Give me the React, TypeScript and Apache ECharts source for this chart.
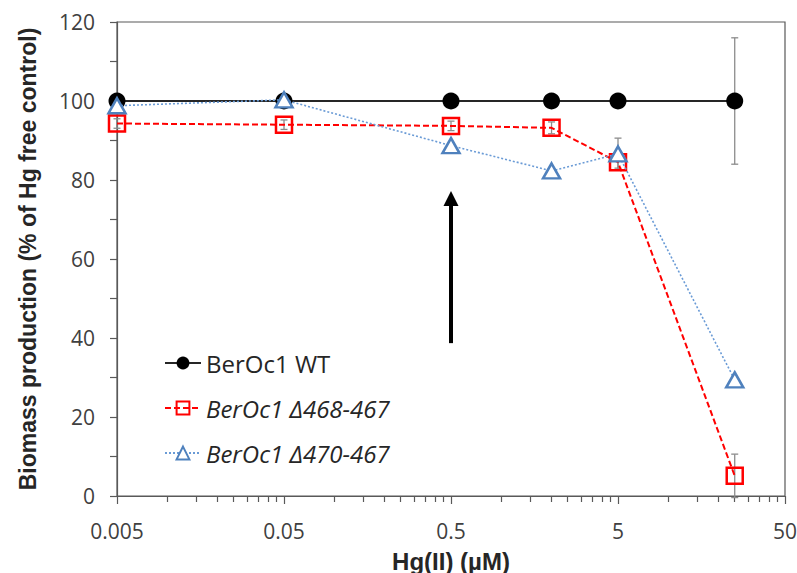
import React, { useEffect, useRef } from 'react';
import * as echarts from 'echarts';

// Hg(II) concentrations (µM)
const concentrations = [0.005, 0.05, 0.5, 2, 5, 25];
// Biomass production (% of Hg free control)
const wtValues = [100, 100, 100, 100, 100, 100];
const wtErrors = [0, 0, 0, 0, 0, 16];
const d468Values = [94.3, 94.0, 93.7, 93.2, 84.5, 5.1];
const d468Errors = [1.2, 1.2, 1.2, 1.5, 1.5, 5.5];
const d470Values = [98.8, 100.3, 88.7, 82.3, 86.6, 29.4];
const d470Errors = [0.5, 0.8, 0.5, 0, 4, 0];
const xTickLabels = ['0.005', '0.05', '0.5', '5', '50'];
const seriesNames = ['BerOc1 WT', 'BerOc1 \u0394468-467', 'BerOc1 \u0394470-467'];
const arrowX = 0.5;
const arrowFrom = 38.7;
const arrowTo = 75.3;

const X_BASE = 0.005;
const tx = (x: number) => Math.log10(x / X_BASE);

const minorTicks: number[] = [];
for (let n = 0; n < 4; n++) {
  for (let k = 2; k <= 9; k++) minorTicks.push(n + Math.log10(k));
}

const FONT = '"Open Sans", "Noto Sans", sans-serif';
const NAME_FONT = '"Liberation Sans", Arial, sans-serif';

export default function App() {
  const ref = useRef<HTMLDivElement>(null);
  useEffect(() => {
    if (!ref.current) return;
    const chart = echarts.init(ref.current, undefined, { renderer: 'svg' });

    const toPts = (vals: number[]) => concentrations.map((c, i) => [tx(c), vals[i]]);
    const errData = (vals: number[], errs: number[]) =>
      concentrations.map((c, i) => [tx(c), vals[i], errs[i]]);

    const errorSeries = (vals: number[], errs: number[]) => ({
      type: 'custom',
      xAxisIndex: 0,
      yAxisIndex: 0,
      silent: true,
      z: 1,
      data: errData(vals, errs),
      renderItem: (params: any, api: any) => {
        const x = api.value(0);
        const y = api.value(1);
        const e = api.value(2);
        if (!e) return { type: 'group', children: [] };
        const top = api.coord([x, y + e]);
        const bot = api.coord([x, y - e]);
        const cap = 3.5;
        const style = { stroke: '#8c8c8c', lineWidth: 1.3 };
        return {
          type: 'group',
          children: [
            { type: 'line', shape: { x1: top[0], y1: top[1], x2: bot[0], y2: bot[1] }, style },
            { type: 'line', shape: { x1: top[0] - cap, y1: top[1], x2: top[0] + cap, y2: top[1] }, style },
            { type: 'line', shape: { x1: bot[0] - cap, y1: bot[1], x2: bot[0] + cap, y2: bot[1] }, style },
          ],
        };
      },
    });

    chart.setOption({
      animation: false,
      grid: {
        left: 117,
        right: 12,
        top: 22,
        bottom: 77,
        show: true,
        borderColor: '#595959',
        borderWidth: 1.2,
        backgroundColor: 'transparent',
        outerBoundsMode: 'none',
        containLabel: false,
      },
      legend: {
        show: true,
        orient: 'vertical',
        left: 164,
        top: 351,
        padding: 0,
        itemWidth: 36,
        itemHeight: 16,
        itemGap: 21,
        textStyle: { fontFamily: FONT, fontSize: 24, color: '#262626' },
        data: [
          { name: seriesNames[0] },
          { name: seriesNames[1], textStyle: { fontStyle: 'italic' } },
          { name: seriesNames[2], textStyle: { fontStyle: 'italic' } },
        ],
      },
      xAxis: [
        {
          type: 'value',
          min: 0,
          max: 4,
          interval: 1,
          name: 'Hg(II) (\u00b5M)',
          nameLocation: 'middle',
          nameGap: 53,
          nameTextStyle: { fontFamily: NAME_FONT, fontSize: 24, fontWeight: 'bold', color: '#262626' },
          axisLine: { show: true, lineStyle: { color: '#595959', width: 1.2 } },
          axisTick: { show: true, inside: false, length: 8, lineStyle: { color: '#595959', width: 1.2 } },
          axisLabel: {
            margin: 24,
            fontFamily: FONT,
            fontSize: 21,
            color: '#404040',
            formatter: (v: number) => xTickLabels[Math.round(v)] ?? '',
          },
          splitLine: { show: false },
        },
        {
          type: 'value',
          position: 'bottom',
          min: 0,
          max: 4,
          axisLine: { show: false },
          axisTick: {
            show: true,
            inside: false,
            length: 6,
            customValues: minorTicks,
            lineStyle: { color: '#595959', width: 1.2 },
          },
          axisLabel: { show: false },
          splitLine: { show: false },
        },
      ],
      yAxis: {
        type: 'value',
        min: 0,
        max: 120,
        interval: 10,
        name: 'Biomass production (% of Hg free control)',
        nameLocation: 'middle',
        nameGap: 78,
        nameTextStyle: { fontFamily: NAME_FONT, fontSize: 23, fontWeight: 'bold', color: '#262626' },
        axisLine: { show: true, lineStyle: { color: '#595959', width: 1.2 } },
        axisTick: { show: true, inside: false, length: 7, lineStyle: { color: '#595959', width: 1.2 } },
        axisLabel: {
          margin: 22,
          fontFamily: FONT,
          fontSize: 21,
          color: '#404040',
          formatter: (v: number) => (v % 20 === 0 ? String(v) : ''),
        },
        splitLine: { show: false },
      },
      series: [
        errorSeries(wtValues, wtErrors),
        errorSeries(d468Values, d468Errors),
        errorSeries(d470Values, d470Errors),
        {
          name: seriesNames[0],
          type: 'line',
          z: 3,
          data: toPts(wtValues),
          symbol: 'circle',
          symbolSize: 17,
          itemStyle: { color: '#000000' },
          lineStyle: { color: '#262626', width: 1.8, type: 'solid' },
          markLine: {
            silent: true,
            symbol: ['none', 'triangle'],
            symbolSize: [15, 15],
            label: { show: false },
            lineStyle: { color: '#000000', width: 4, type: 'solid' },
            data: [[{ coord: [tx(arrowX), arrowFrom] }, { coord: [tx(arrowX), arrowTo] }]],
          },
        },
        {
          name: seriesNames[1],
          type: 'line',
          z: 4,
          data: toPts(d468Values),
          symbol: 'rect',
          symbolSize: 16,
          itemStyle: { color: 'rgba(255,255,255,0)', borderColor: '#ff0000', borderWidth: 2.5 },
          lineStyle: { color: '#ff0000', width: 2, type: [6, 3] },
        },
        {
          name: seriesNames[2],
          type: 'line',
          z: 5,
          data: toPts(d470Values),
          symbol: 'triangle',
          symbolSize: [17, 15],
          itemStyle: { color: '#ffffff', borderColor: '#4f81bd', borderWidth: 2.5 },
          lineStyle: { color: '#6a9bd6', width: 1.6, type: [2, 2] },
        },
      ],
    });
    return () => chart.dispose();
  }, []);
  return (
    <div
      ref={ref}
      style={{ position: 'fixed', left: 0, top: 0, width: 797, height: 573, background: '#ffffff' }}
    />
  );
}
